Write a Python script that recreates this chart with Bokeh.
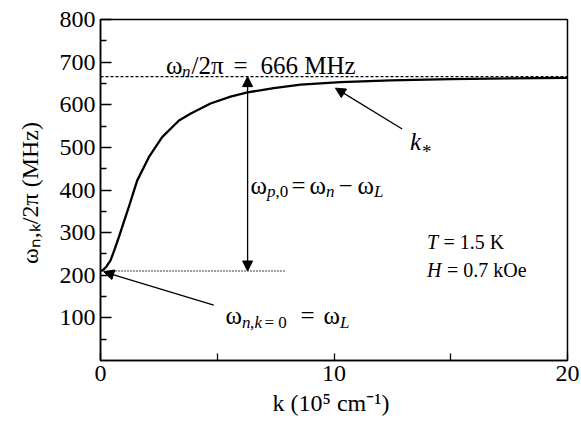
from bokeh.plotting import figure
from bokeh.models import Label, Arrow, NormalHead, Range1d, FixedTicker
from bokeh.embed import file_html
from bokeh.resources import INLINE

# ---- data ----
k_vals = [0, 0.1, 0.25, 0.43, 0.6, 0.79, 1.0, 1.21, 1.57, 2.07, 2.64, 3.36,
          3.85, 4.71, 5.57, 6.29, 7.42, 8.57, 10.28, 12.42, 15.0, 17.5, 20.0]
omega_nk = [210, 212, 220, 235, 260, 290, 325, 360, 422, 477, 524, 563,
            579, 603, 619, 629, 639, 647, 653, 657, 660, 662, 663]
omega_n = 666      # MHz
omega_L = 210      # MHz
x_ticks = [0, 10, 20]
x_minor = [5, 15]
y_ticks = [100, 200, 300, 400, 500, 600, 700, 800]
y_minor = [50, 150, 250, 350, 450, 550, 650, 750]

FONT = "Liberation Serif"
AX_FONT = "serif"

p = figure(width=581, height=433, output_backend="svg", toolbar_location=None,
           x_range=Range1d(0, 20), y_range=Range1d(0, 800))
p.min_border = 0
p.min_border_left = 100
p.min_border_right = 14
p.min_border_top = 19
p.min_border_bottom = 73
p.xgrid.visible = False
p.ygrid.visible = False
p.outline_line_color = "black"
p.outline_line_width = 1.5
p.background_fill_color = "white"
p.border_fill_color = "white"

for ax in p.axis:
    ax.axis_line_color = "black"
    ax.axis_line_width = 1.5
    ax.major_tick_line_color = "black"
    ax.minor_tick_line_color = "black"
    ax.major_tick_line_width = 1.3
    ax.minor_tick_line_width = 1.3
    ax.major_tick_out = 0
    ax.minor_tick_out = 0
    ax.major_label_text_font = AX_FONT
    ax.major_label_text_font_size = "24px"
    ax.major_label_text_color = "black"
    ax.axis_label_text_font = AX_FONT
    ax.axis_label_text_font_size = "24px"
    ax.axis_label_text_font_style = "normal"
    ax.axis_label_text_color = "black"

p.xaxis[0].ticker = FixedTicker(ticks=x_ticks, minor_ticks=x_minor)
p.xaxis[0].major_tick_in = 7
p.xaxis[0].minor_tick_in = 7
p.xaxis[0].major_label_standoff = 5
p.xaxis[0].axis_label = "k  (10⁵ cm⁻¹)"
p.xaxis[0].axis_label_standoff = 6

p.yaxis[0].ticker = FixedTicker(ticks=y_ticks, minor_ticks=y_minor)
p.yaxis[0].major_tick_in = 11
p.yaxis[0].minor_tick_in = 6
p.yaxis[0].major_label_standoff = 5
p.yaxis[0].axis_label = "ωₙ,ₖ/2π  (MHz)"
p.yaxis[0].axis_label_standoff = 14

# reference lines
p.line([x_ticks[0], x_ticks[-1]], [omega_n, omega_n], line_color="black",
       line_width=1.2, line_dash="3 2")
p.line([0, 7.95], [omega_L, omega_L], line_color="black",
       line_width=1.4, line_dash="1 2")

# dispersion curve
p.line(k_vals, omega_nk, line_color="black", line_width=2.3)

# arrows
def head():
    return NormalHead(size=10, fill_color="black", line_color="black", line_width=1)

p.add_layout(Arrow(start=head(), end=head(), x_start=6.3, y_start=omega_L,
                   x_end=6.3, y_end=omega_n, line_width=1.3, line_color="black"))
p.add_layout(Arrow(end=head(), x_start=12.92, y_start=543, x_end=10.06, y_end=639,
                   line_width=1.3, line_color="black"))
p.add_layout(Arrow(end=head(), x_start=4.85, y_start=130, x_end=0.14, y_end=208,
                   line_width=1.3, line_color="black"))

# text placement helper (page pixels -> data units)
def px(xp, yp):
    return (xp - 100) / 23.35, (360.4 - yp) / 0.427

def txt(xp, yp, s, size=25, style="normal", angle=0):
    x, y = px(xp, yp)
    p.add_layout(Label(x=x, y=y, text=s, text_font=FONT,
                       text_font_size=f"{size}px", text_font_style=style,
                       text_color="black", text_align="left",
                       text_baseline="alphabetic", angle=angle))

# ω_n/2π = 666 MHz
txt(165.5, 65, "ω")
txt(181.5, 71, "n", 17, "italic")
txt(191, 65, "/2π")
txt(233, 65, "=")
txt(260, 65, "666 MHz")

# ω_p,0 = ω_n − ω_L
txt(250, 185, "ω")
txt(266.5, 191, "p", 17, "italic")
txt(275, 191, ",0", 17)
txt(291, 185, "=")
txt(309, 185, "ω")
txt(325.5, 191, "n", 17, "italic")
txt(338, 185, "−")
txt(357, 185, "ω")
txt(373.5, 191, "L", 17, "italic")

# ω_n,k=0 = ω_L
txt(225, 315, "ω")
txt(241.5, 322, "n", 17, "italic")
txt(249.5, 322, ",", 17)
txt(254, 322, "k", 17, "italic")
txt(264, 322, "= 0", 17)
txt(300, 315, "=")
txt(323, 315, "ω")
txt(339.5, 322, "L", 17, "italic")

# k_*
txt(409.5, 141.5, "k", 25, "italic")
txt(421.5, 151, "*", 19)

# T, H
txt(426.5, 241.5, "T", 20, "italic")
txt(443, 241.5, "= 1.5 K", 20)
txt(426.5, 270, "H", 20, "italic")
txt(446.5, 270, "= 0.7 kOe", 20)

open("out.html", "w").write(file_html(p, INLINE))
